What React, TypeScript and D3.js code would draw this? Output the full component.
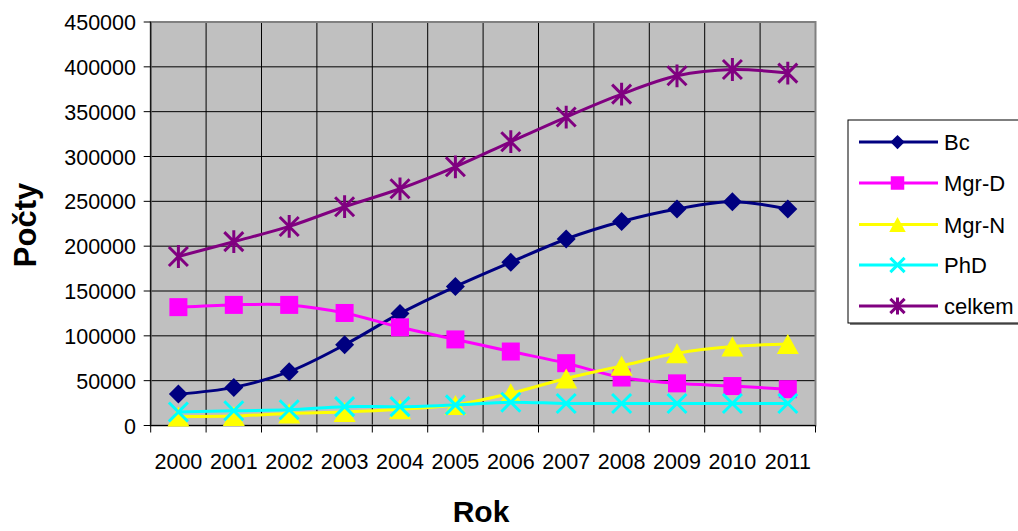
import React from 'react';
import * as d3 from 'd3';

const years = ['2000','2001','2002','2003','2004','2005','2006','2007','2008','2009','2010','2011'];
const bc = [35000, 42500, 60000, 90000, 125000, 155000, 182000, 208000, 227500, 241500, 249500, 241500];
const mgrD = [132000, 134500, 134500, 125500, 109500, 96000, 82500, 69500, 53500, 47000, 44000, 40500];
const mgrN = [10000, 10500, 13500, 15000, 18000, 23000, 36000, 52500, 66500, 80500, 88000, 91000];
const phd = [15000, 16500, 17500, 21000, 21000, 23000, 26000, 24500, 24500, 24500, 24500, 24500];
const celkem = [188500, 205000, 222000, 244000, 264000, 288500, 316500, 344000, 369500, 390000, 397000, 393000];
const yTicks = [0, 50000, 100000, 150000, 200000, 250000, 300000, 350000, 400000, 450000];

const seriesNames = ['Bc', 'Mgr-D', 'Mgr-N', 'PhD', 'celkem'];
const seriesValues = [bc, mgrD, mgrN, phd, celkem];
const seriesColors = ['#000080', '#FF00FF', '#FFFF00', '#00FFFF', '#800080'];
const seriesMarkers = ['diamond', 'square', 'triangle', 'x', 'star'];

const FONT = 'Arial, "Liberation Sans", sans-serif';

function Marker({ type, x, y, color, scale = 1 }: { type: string; x: number; y: number; color: string; scale?: number }) {
  if (type === 'diamond') {
    const r = 9.5 * scale;
    return <path d={`M${x},${y - r}L${x + r},${y}L${x},${y + r}L${x - r},${y}Z`} fill={color} />;
  }
  if (type === 'square') {
    const h = 9 * scale;
    return <rect x={x - h} y={y - h} width={2 * h} height={2 * h} fill={color} />;
  }
  if (type === 'triangle') {
    const w = 11 * scale, h = 10 * scale;
    return <path d={`M${x},${y - h}L${x + w},${y + h}L${x - w},${y + h}Z`} fill={color} />;
  }
  if (type === 'x') {
    const r = 9.5 * scale;
    return <path d={`M${x - r},${y - r}L${x + r},${y + r}M${x - r},${y + r}L${x + r},${y - r}`} stroke={color} strokeWidth={3} fill="none" />;
  }
  const r = 9.5 * scale;
  return <path d={`M${x - r},${y - r}L${x + r},${y + r}M${x - r},${y + r}L${x + r},${y - r}M${x},${y - r * 1.2}L${x},${y + r * 1.2}`} stroke={color} strokeWidth={3} fill="none" />;
}

export default function App() {
  const left = 150.7, right = 815.5, top = 22, bottom = 425.5;
  const x = d3.scaleBand().domain(years).range([left, right]);
  const bw = x.bandwidth();
  const cx = (yr: string) => (x(yr) as number) + bw / 2;
  const y = d3.scaleLinear().domain([0, 450000]).range([bottom, top]);
  const line = d3.line<number>()
    .x((_, i) => cx(years[i]))
    .y((v) => y(v))
    .curve(d3.curveCatmullRom.alpha(0.5));

  const boundaries = d3.range(years.length + 1).map((i) => left + i * bw);

  const legX = 848, legY = 120, legW = 175, legH = 203;
  const legEntryY = [142, 183, 224.5, 265, 306];

  return (
    <div style={{ position: 'absolute', left: 0, top: 0 }}>
      <svg width={1018} height={531} style={{ display: 'block' }} fontFamily={FONT}>
        <rect x={0} y={0} width={1018} height={531} fill="#ffffff" />
        <rect x={left} y={top} width={right - left} height={bottom - top} fill="#C0C0C0" />
        {yTicks.map((t) => (
          <line key={'h' + t} x1={left} x2={right} y1={y(t)} y2={y(t)} stroke="#000" strokeWidth={1} />
        ))}
        {boundaries.map((b, i) => (
          <line key={'v' + i} x1={b} x2={b} y1={top} y2={bottom} stroke="#000" strokeWidth={1} />
        ))}
        <rect x={left} y={top} width={right - left} height={bottom - top} fill="none" stroke="#808080" strokeWidth={2} />
        {/* axes */}
        <line x1={left} x2={left} y1={top} y2={bottom} stroke="#000" strokeWidth={1} />
        <line x1={left} x2={right} y1={bottom} y2={bottom} stroke="#000" strokeWidth={1} />
        {yTicks.map((t) => (
          <g key={'yt' + t}>
            <line x1={left - 7} x2={left} y1={y(t)} y2={y(t)} stroke="#000" strokeWidth={1} />
            <text x={136} y={y(t) + 8} textAnchor="end" fontSize={21.5} fill="#000">{t}</text>
          </g>
        ))}
        {boundaries.map((b, i) => (
          <line key={'xt' + i} x1={b} x2={b} y1={bottom} y2={bottom + 7} stroke="#000" strokeWidth={1} />
        ))}
        {years.map((yr) => (
          <text key={'xl' + yr} x={cx(yr)} y={469} textAnchor="middle" fontSize={21.5} fill="#000">{yr}</text>
        ))}
        {/* series */}
        {seriesValues.map((vals, si) => (
          <g key={'s' + si}>
            <path d={line(vals) || ''} fill="none" stroke={seriesColors[si]} strokeWidth={3} />
            {vals.map((v, i) => (
              <Marker key={i} type={seriesMarkers[si]} x={cx(years[i])} y={y(v)} color={seriesColors[si]} />
            ))}
          </g>
        ))}
        {/* axis titles */}
        <text x={481} y={522} textAnchor="middle" fontSize={30} fontWeight="bold" fill="#000">Rok</text>
        <text transform={`translate(36,225) rotate(-90)`} textAnchor="middle" fontSize={31} fontWeight="bold" fill="#000">Počty</text>
        {/* legend */}
        <rect x={legX + 2} y={legY + 2} width={legW} height={legH} fill="#808080" />
        <rect x={legX} y={legY} width={legW} height={legH} fill="#ffffff" stroke="#000" strokeWidth={1} />
        {seriesNames.map((n, i) => (
          <g key={'lg' + i}>
            <line x1={859} x2={938} y1={legEntryY[i]} y2={legEntryY[i]} stroke={seriesColors[i]} strokeWidth={3} />
            <Marker type={seriesMarkers[i]} x={897.5} y={legEntryY[i]} color={seriesColors[i]} scale={0.75} />
            <text x={944} y={legEntryY[i] + 8} fontSize={22} fill="#000">{n}</text>
          </g>
        ))}
      </svg>
    </div>
  );
}
